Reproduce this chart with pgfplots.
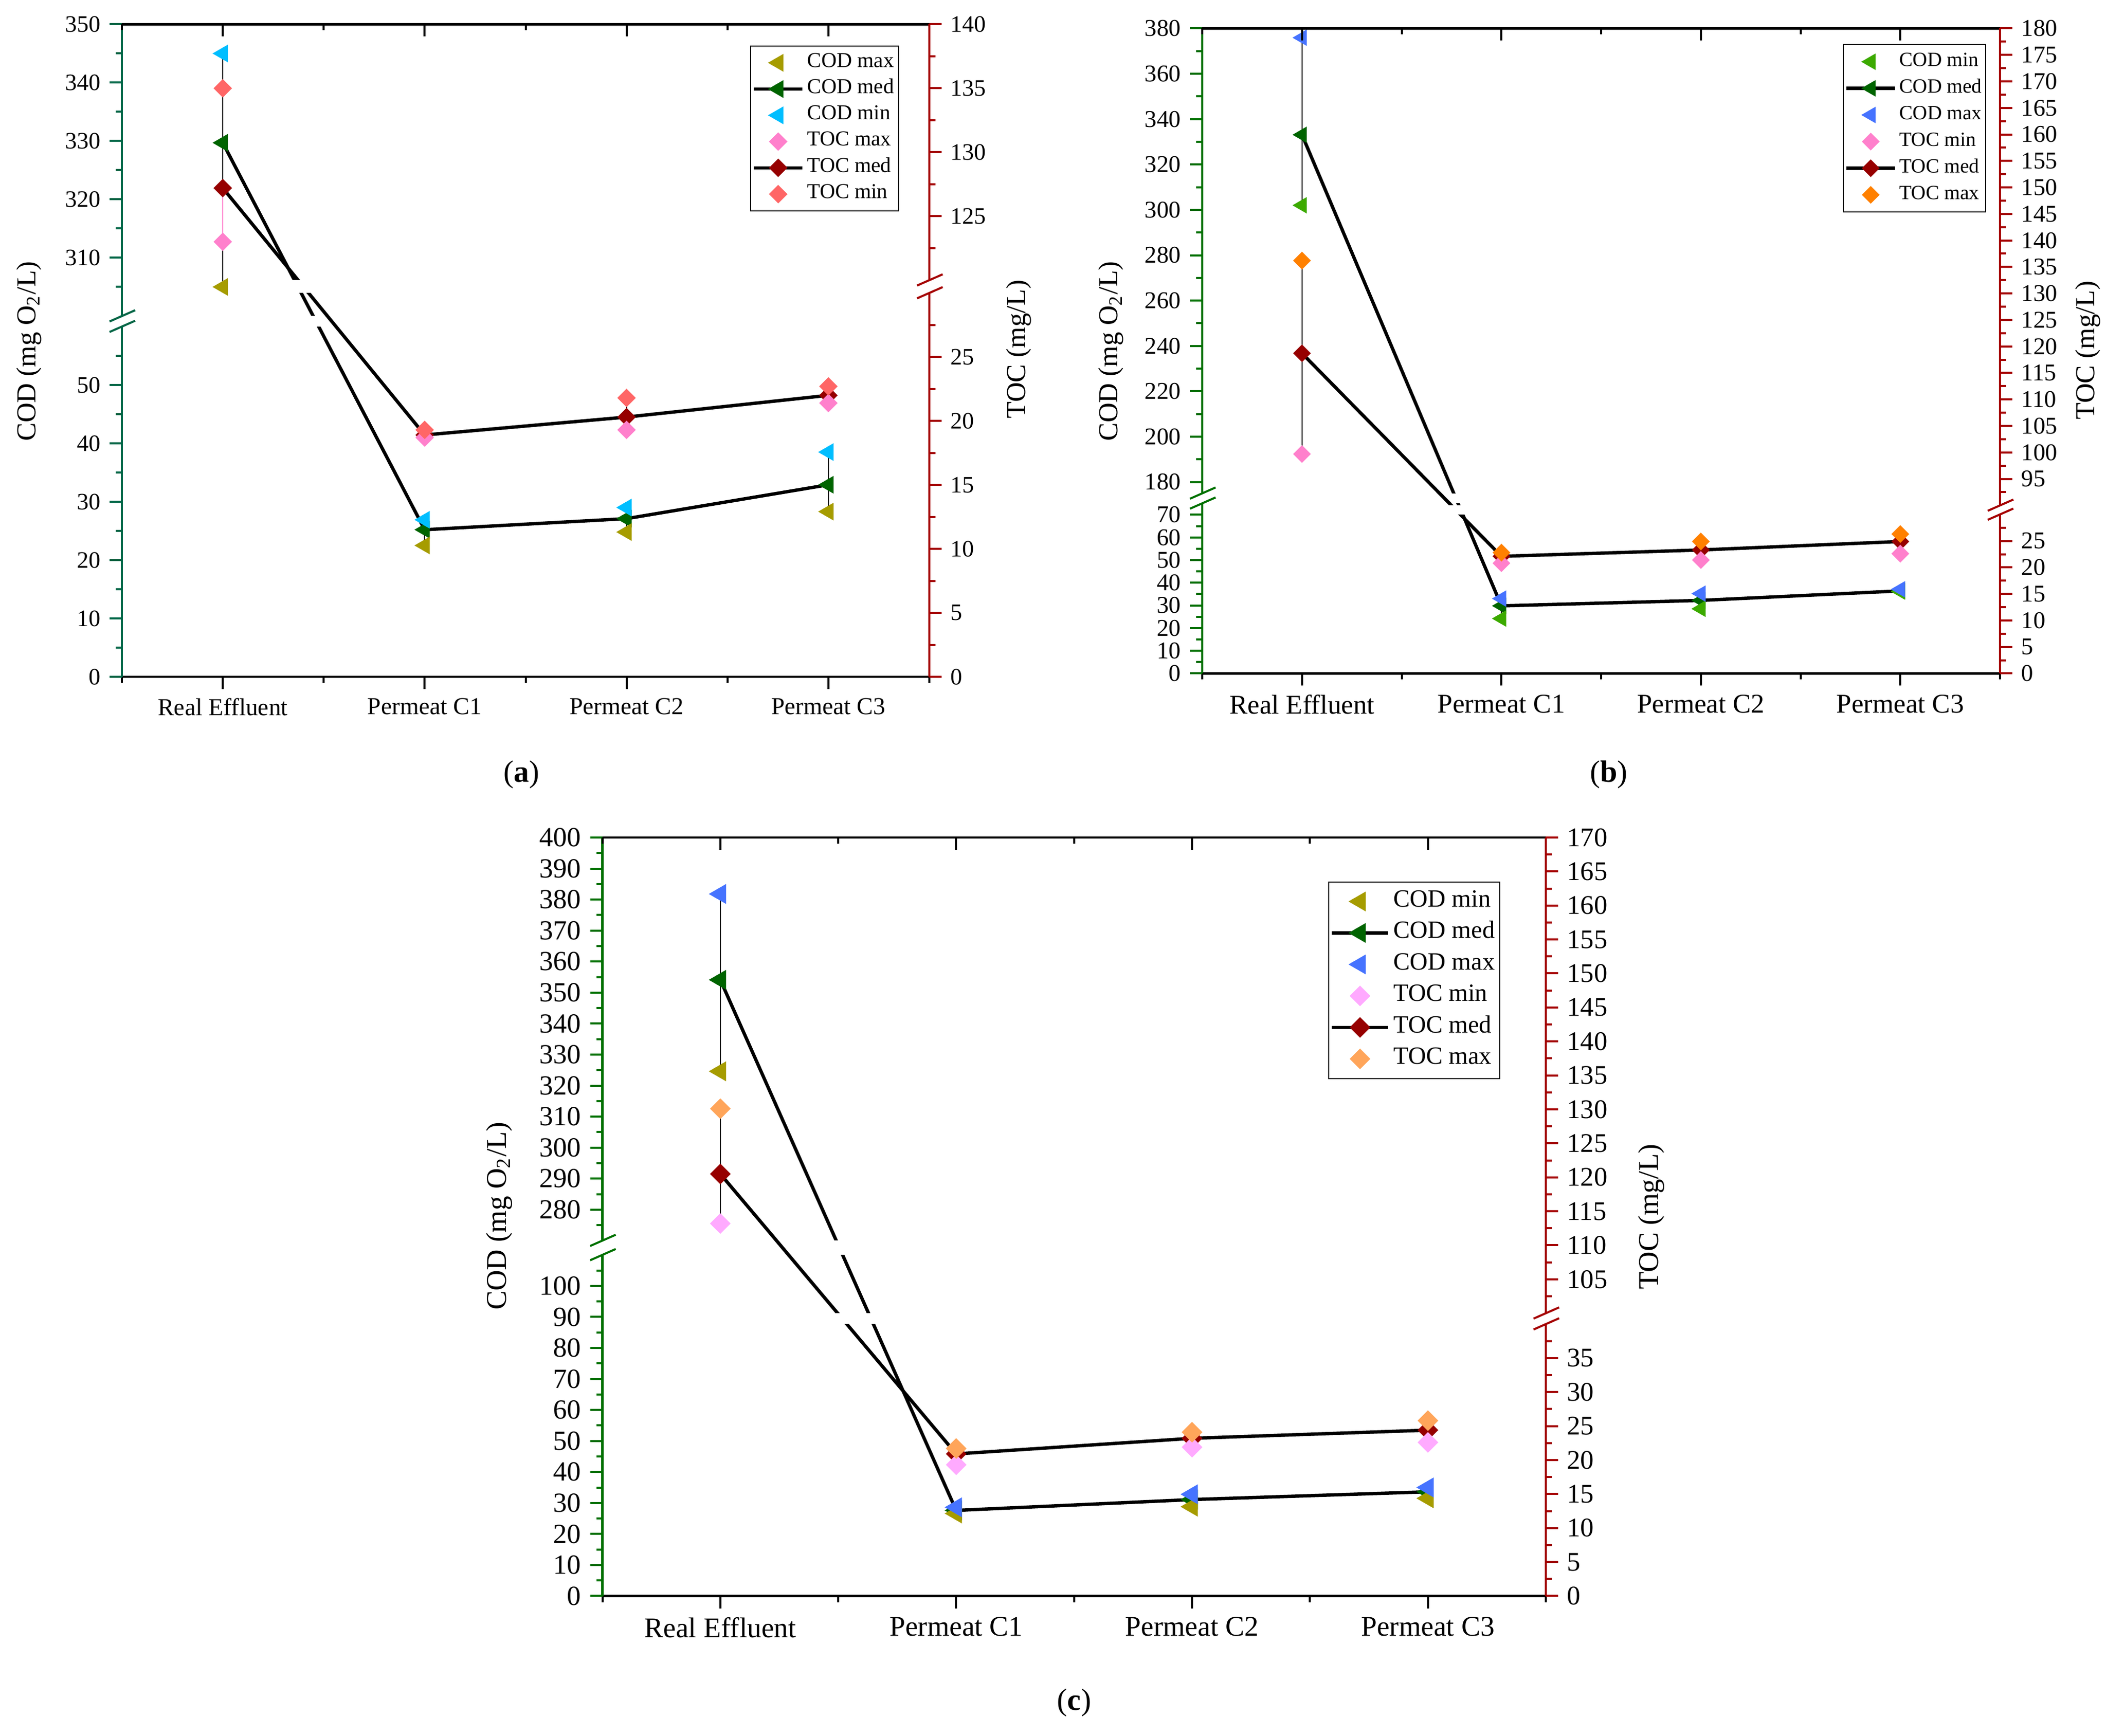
\documentclass[border=0pt]{standalone}
\usepackage{fontspec}
\setmainfont{Liberation Serif}
\usepackage{pgfplots}
\usepackage{pgfplotstable}
\pgfplotsset{compat=1.18}

\definecolor{axLa}{RGB}{0,102,70}
\definecolor{axLb}{RGB}{0,112,0}
\definecolor{axR}{RGB}{165,0,0}
\definecolor{olivec}{RGB}{166,156,0}
\definecolor{codmed}{RGB}{0,100,0}
\definecolor{cyanc}{RGB}{0,190,255}
\definecolor{pinkc}{RGB}{255,128,204}
\definecolor{tocmed}{RGB}{150,0,0}
\definecolor{salmonc}{RGB}{255,102,102}
\definecolor{greenc}{RGB}{60,170,0}
\definecolor{bluec}{RGB}{70,115,255}
\definecolor{orangec}{RGB}{255,128,0}
\definecolor{lilacc}{RGB}{255,170,255}
\definecolor{lorangec}{RGB}{255,165,90}

% panel (a): columns named as in its legend
\pgfplotstableread{
x codmax codmed codmin tocmax tocmed tocmin
0 305.0 329.7 345.0 123.0 127.2 135.0
1 22.5 25.2 26.9 18.7 18.9 19.3
2 24.8 27.1 29.0 19.3 20.3 21.8
3 28.3 32.9 38.5 21.4 22.0 22.7
}\dataA
% panel (b)
\pgfplotstableread{
x codmin codmed codmax tocmin tocmed tocmax
0 302.0 333.1 375.9 99.7 118.7 136.2
1 24.2 29.8 33.0 20.8 22.1 22.8
2 28.5 32.2 35.2 21.4 23.3 24.9
3 36.1 36.4 37.1 22.6 24.9 26.3
}\dataB
% panel (c)
\pgfplotstableread{
x codmin codmed codmax tocmin tocmed tocmax
0 324.6 354.1 381.8 113.2 120.5 130.1
1 26.6 27.6 28.6 19.3 20.9 21.7
2 28.8 31.1 32.8 21.9 23.2 24.1
3 31.5 33.6 35.0 22.6 24.4 25.8
}\dataC

% #1 table, #2 column, #3 colour, #4 size
\newcommand{\trimark}[4]{\addplot[only marks, mark=triangle*, mark size=#4, mark options={rotate=90, draw=#3, fill=#3, line width=0.3pt}, forget plot] table[x=x, y=#2] {#1};}
\newcommand{\diamark}[4]{\addplot[only marks, mark=square*, mark size=#4, mark options={rotate=45, draw=#3, fill=#3, line width=0.3pt}, forget plot] table[x=x, y=#2] {#1};}
\newcommand{\medtri}[2]{\addplot[black, line width=1.3pt, mark=triangle*, mark size=#2, mark options={solid, rotate=90, draw=codmed, fill=codmed, line width=0.3pt}, forget plot] table[x=x, y=codmed] {#1};}
\newcommand{\meddia}[2]{\addplot[black, line width=1.3pt, mark=square*, mark size=#2, mark options={solid, rotate=45, draw=tocmed, fill=tocmed, line width=0.3pt}, forget plot] table[x=x, y=tocmed] {#1};}
\newcommand{\rng}[4][black]{\addplot[#1, line width=0.4pt, forget plot] coordinates {(#2,#3) (#2,#4)};}
% legend images
\newcommand{\ltri}[2]{\addlegendimage{only marks, mark=triangle*, mark size=#2, mark options={rotate=90, draw=#1, fill=#1, line width=0.3pt}}}
\newcommand{\ldia}[2]{\addlegendimage{only marks, mark=square*, mark size=#2, mark options={rotate=45, draw=#1, fill=#1, line width=0.3pt}}}
\newcommand{\lmedtri}[1]{\addlegendimage{black, line width=1.3pt, mark=triangle*, mark size=#1, mark options={solid, rotate=90, draw=codmed, fill=codmed, line width=0.3pt}}}
\newcommand{\lmeddia}[1]{\addlegendimage{black, line width=1.3pt, mark=square*, mark size=#1, mark options={solid, rotate=45, draw=tocmed, fill=tocmed, line width=0.3pt}}}
% broken axis: #1 colour, #2 x, #3 low end, #4 high start, #5 max
\newcommand{\brokenaxis}[5]{%
 \draw[#1, line width=0.9pt] (axis cs:#2,0) -- (axis cs:#2,#3);
 \draw[#1, line width=0.9pt] (axis cs:#2,#4) -- (axis cs:#2,#5);
 \draw[#1, line width=0.8pt] (axis cs:#2,#3) ++(-4.8pt,-2.1pt) -- ++(10pt,4.4pt);
 \draw[#1, line width=0.8pt] (axis cs:#2,#4) ++(-4.8pt,-2.1pt) -- ++(10pt,4.4pt);
}

\pgfplotsset{
 basepanel/.style={
  scale only axis, clip=false, anchor=south west,
  xmin=-0.5, xmax=3.5, ymin=0,
  xtick={0,1,2,3}, minor xtick={-0.5,0.5,1.5,2.5,3.5},
  major tick length=4.8pt, minor tick length=2.4pt,
  x tick style={black, line width=0.8pt},
  x axis line style={-, black, line width=0.9pt},
  y axis line style={draw=none},
 },
 leftpanel/.style={basepanel, axis x line*=bottom, axis y line*=left,
  xtick align=outside, ytick align=outside,
  xticklabels={Real Effluent, Permeat C1, Permeat C2, Permeat C3}},
 rightpanel/.style={basepanel, axis x line*=top, axis y line*=right,
  xtick align=inside, ytick align=outside, xticklabels={}},
}

\begin{document}
\begin{tikzpicture}
%================ (a) left: COD
\begin{axis}[leftpanel, at={(47.6pt,413.6pt)}, width=315.4pt, height=254.9pt,
 ymax=350, y coord trafo/.code={\pgfmathparse{ifthenelse(#1>180,#1-238.2,#1)}},
 ytick={0,10,20,30,40,50,310,320,330,340,350},
 yticklabels={0,10,20,30,40,50,310,320,330,340,350},
 minor ytick={5,15,25,35,45,55,305,315,325,335,345},
 y tick style={axLa, line width=0.8pt},
 yticklabel style={font=\fontsize{9.2}{11}\selectfont},
 xticklabel style={font=\fontsize{9.5}{11}\selectfont},
 ylabel={COD (mg O\textsubscript{2}/L)},
 ylabel style={at={(axis description cs:-0.1148,0.499)}, anchor=center, font=\fontsize{10.7}{12}\selectfont},
]
\rng{0}{305}{345}\rng{1}{22.5}{26.9}\rng{2}{24.8}{29.0}\rng{3}{28.3}{38.5}
\medtri{\dataA}{3.7pt}
\trimark{\dataA}{codmax}{olivec}{3.7pt}
\trimark{\dataA}{codmin}{cyanc}{3.7pt}
\fill[white] (axis cs:0.1,60) rectangle (axis cs:0.9,300);
\brokenaxis{axLa}{-0.5}{60}{300}{350}
\end{axis}
%================ (a) right: TOC
\begin{axis}[rightpanel, at={(47.6pt,413.6pt)}, width=315.4pt, height=254.9pt,
 ymax=140, y coord trafo/.code={\pgfmathparse{ifthenelse(#1>75,#1-89.0,#1)}},
 ytick={0,5,10,15,20,25,125,130,135,140},
 yticklabels={0,5,10,15,20,25,125,130,135,140},
 minor ytick={2.5,7.5,12.5,17.5,22.5,27.5,122.5,127.5,132.5,137.5},
 y tick style={axR, line width=0.8pt},
 yticklabel style={font=\fontsize{9.2}{11}\selectfont},
 ylabel={TOC (mg/L)},
 ylabel style={at={(axis description cs:1.111,0.502)}, anchor=center, font=\fontsize{10.7}{12}\selectfont},
 legend entries={COD max, COD med, COD min, TOC max, TOC med, TOC min},
 legend image code/.code={\draw[mark repeat=2,mark phase=2,#1] plot coordinates {(0pt,0pt) (9.5pt,0pt) (19pt,0pt)};},
 legend cell align=left,
 legend style={at={(0.9626,0.9678)}, anchor=north east, draw=black, line width=0.4pt,
  font=\fontsize{8.3}{9}\selectfont, inner xsep=0.6pt, inner ysep=1.5pt, row sep=0pt,
  nodes={inner xsep=1.2pt, inner ysep=0pt, text height=6.8pt, text depth=3.46pt}},
]
\ltri{olivec}{3.7pt}\lmedtri{3.7pt}\ltri{cyanc}{3.7pt}
\ldia{pinkc}{2.4pt}\lmeddia{2.4pt}\ldia{salmonc}{2.4pt}
\rng[pinkc]{0}{123.0}{127.2}\rng{1}{18.7}{19.3}\rng{2}{19.3}{21.8}\rng{3}{21.4}{22.7}
\meddia{\dataA}{2.4pt}
\diamark{\dataA}{tocmax}{pinkc}{2.4pt}
\diamark{\dataA}{tocmin}{salmonc}{2.4pt}
\fill[white] (axis cs:0.1,30) rectangle (axis cs:0.9,120);
\brokenaxis{axR}{3.5}{30}{120}{140}
\end{axis}

%================ (b) left: COD
\begin{axis}[leftpanel, at={(469.6pt,414.9pt)}, width=311.6pt, height=252pt,
 ymax=380, y coord trafo/.code={\pgfmathparse{ifthenelse(#1>120,#1-95.6,#1)}},
 ytick={0,10,20,30,40,50,60,70,180,200,220,240,260,280,300,320,340,360,380},
 yticklabels={0,10,20,30,40,50,60,70,180,200,220,240,260,280,300,320,340,360,380},
 minor ytick={5,15,...,65,190,210,...,370},
 y tick style={axLb, line width=0.8pt},
 yticklabel style={font=\fontsize{9.4}{11}\selectfont},
 xticklabel style={font=\fontsize{10.6}{12}\selectfont},
 ylabel={COD (mg O\textsubscript{2}/L)},
 ylabel style={at={(axis description cs:-0.1142,0.4996)}, anchor=center, font=\fontsize{10.7}{12}\selectfont},
]
\rng{0}{302.0}{375.9}\rng{1}{24.2}{33.0}\rng{2}{28.5}{35.2}\rng{3}{36.1}{37.1}
\medtri{\dataB}{3.4pt}
\trimark{\dataB}{codmin}{greenc}{3.4pt}
\trimark{\dataB}{codmax}{bluec}{3.4pt}
\fill[white] (axis cs:0.1,75) rectangle (axis cs:0.9,175);
\brokenaxis{axLb}{-0.5}{75}{175}{380}
\end{axis}
%================ (b) right: TOC
\begin{axis}[rightpanel, at={(469.6pt,414.9pt)}, width=311.6pt, height=252pt,
 ymax=180, y coord trafo/.code={\pgfmathparse{ifthenelse(#1>60,#1-58.3,#1)}},
 ytick={0,5,10,15,20,25,95,100,105,110,115,120,125,130,135,140,145,150,155,160,165,170,175,180},
 yticklabels={0,5,10,15,20,25,95,100,105,110,115,120,125,130,135,140,145,150,155,160,165,170,175,180},
 minor ytick={2.5,7.5,...,27.5,92.5,97.5,...,177.5},
 y tick style={axR, line width=0.8pt},
 yticklabel style={font=\fontsize{9.4}{11}\selectfont},
 ylabel={TOC (mg/L)},
 ylabel style={at={(axis description cs:1.1104,0.501)}, anchor=center, font=\fontsize{10.7}{12}\selectfont},
 legend entries={COD min, COD med, COD max, TOC min, TOC med, TOC max},
 legend image code/.code={\draw[mark repeat=2,mark phase=2,#1] plot coordinates {(0pt,0pt) (9.5pt,0pt) (19pt,0pt)};},
 legend cell align=left,
 legend style={at={(0.9827,0.9757)}, anchor=north east, draw=black, line width=0.4pt,
  font=\fontsize{7.9}{9}\selectfont, inner xsep=0.5pt, inner ysep=1.5pt, row sep=0pt,
  nodes={inner xsep=1.0pt, inner ysep=0pt, text height=6.9pt, text depth=3.5pt}},
]
\ltri{greenc}{3.4pt}\lmedtri{3.4pt}\ltri{bluec}{3.4pt}
\ldia{pinkc}{2.3pt}\lmeddia{2.3pt}\ldia{orangec}{2.3pt}
\rng{0}{99.7}{136.2}\rng{1}{20.8}{22.8}\rng{2}{21.4}{24.9}\rng{3}{22.6}{26.3}
\meddia{\dataB}{2.3pt}
\diamark{\dataB}{tocmin}{pinkc}{2.3pt}
\diamark{\dataB}{tocmax}{orangec}{2.3pt}
\fill[white] (axis cs:0.1,30) rectangle (axis cs:0.9,90);
\brokenaxis{axR}{3.5}{30}{90}{180}
\end{axis}

%================ (c) left: COD
\begin{axis}[leftpanel, at={(235.3pt,54.5pt)}, width=368.5pt, height=296.3pt,
 ymax=400, y coord trafo/.code={\pgfmathparse{ifthenelse(#1>190,#1-155.4,#1)}},
 ytick={0,10,20,30,40,50,60,70,80,90,100,280,290,300,310,320,330,340,350,360,370,380,390,400},
 yticklabels={0,10,20,30,40,50,60,70,80,90,100,280,290,300,310,320,330,340,350,360,370,380,390,400},
 minor ytick={5,15,...,105,275,285,...,395},
 y tick style={axLb, line width=0.8pt},
 yticklabel style={font=\fontsize{10.8}{12}\selectfont},
 xticklabel style={font=\fontsize{11.1}{13}\selectfont},
 ylabel={COD (mg O\textsubscript{2}/L)},
 ylabel style={at={(axis description cs:-0.1094,0.501)}, anchor=center, font=\fontsize{11.2}{13}\selectfont},
]
\rng{0}{324.6}{381.8}\rng{1}{26.6}{28.6}\rng{2}{28.8}{32.8}\rng{3}{31.5}{35.0}
\medtri{\dataC}{4.2pt}
\trimark{\dataC}{codmin}{olivec}{4.2pt}
\trimark{\dataC}{codmax}{bluec}{4.2pt}
\fill[white] (axis cs:0.1,110) rectangle (axis cs:0.9,270);
\brokenaxis{axLb}{-0.5}{110}{270}{400}
\end{axis}
%================ (c) right: TOC
\begin{axis}[rightpanel, at={(235.3pt,54.5pt)}, width=368.5pt, height=296.3pt,
 ymax=170, y coord trafo/.code={\pgfmathparse{ifthenelse(#1>70,#1-58.4,#1)}},
 ytick={0,5,10,15,20,25,30,35,105,110,115,120,125,130,135,140,145,150,155,160,165,170},
 yticklabels={0,5,10,15,20,25,30,35,105,110,115,120,125,130,135,140,145,150,155,160,165,170},
 minor ytick={2.5,7.5,...,37.5,102.5,107.5,...,167.5},
 y tick style={axR, line width=0.8pt},
 yticklabel style={font=\fontsize{10.5}{12}\selectfont},
 ylabel={TOC (mg/L)},
 ylabel style={at={(axis description cs:1.1118,0.50)}, anchor=center, font=\fontsize{11.2}{13}\selectfont},
 legend entries={COD min, COD med, COD max, TOC min, TOC med, TOC max},
 legend image code/.code={\draw[mark repeat=2,mark phase=2,#1] plot coordinates {(0pt,0pt) (11pt,0pt) (22pt,0pt)};},
 legend cell align=left,
 legend style={at={(0.9519,0.9422)}, anchor=north east, draw=black, line width=0.4pt,
  font=\fontsize{9.7}{11}\selectfont, inner xsep=0.6pt, inner ysep=1.5pt, row sep=0pt,
  nodes={inner xsep=1.4pt, inner ysep=0pt, text height=8.2pt, text depth=4.1pt}},
]
\ltri{olivec}{4.2pt}\lmedtri{4.2pt}\ltri{bluec}{4.2pt}
\ldia{lilacc}{2.7pt}\lmeddia{2.7pt}\ldia{lorangec}{2.7pt}
\rng{0}{113.2}{130.1}\rng{1}{19.3}{21.7}\rng{2}{21.9}{24.1}\rng{3}{22.6}{25.8}
\meddia{\dataC}{2.7pt}
\diamark{\dataC}{tocmin}{lilacc}{2.7pt}
\diamark{\dataC}{tocmax}{lorangec}{2.7pt}
\fill[white] (axis cs:0.1,40) rectangle (axis cs:0.9,100);
\brokenaxis{axR}{3.5}{40}{100}{170}
\end{axis}

\node[font=\fontsize{12}{14}\selectfont] at (203.6pt,375.4pt) {(\textbf{a})};
\node[font=\fontsize{12}{14}\selectfont] at (628.4pt,375.4pt) {(\textbf{b})};
\node[font=\fontsize{12}{14}\selectfont] at (419.6pt,12.8pt) {(\textbf{c})};

\pgfresetboundingbox
\useasboundingbox (0pt,0pt) rectangle (822.6pt,678pt);
\end{tikzpicture}
\end{document}
